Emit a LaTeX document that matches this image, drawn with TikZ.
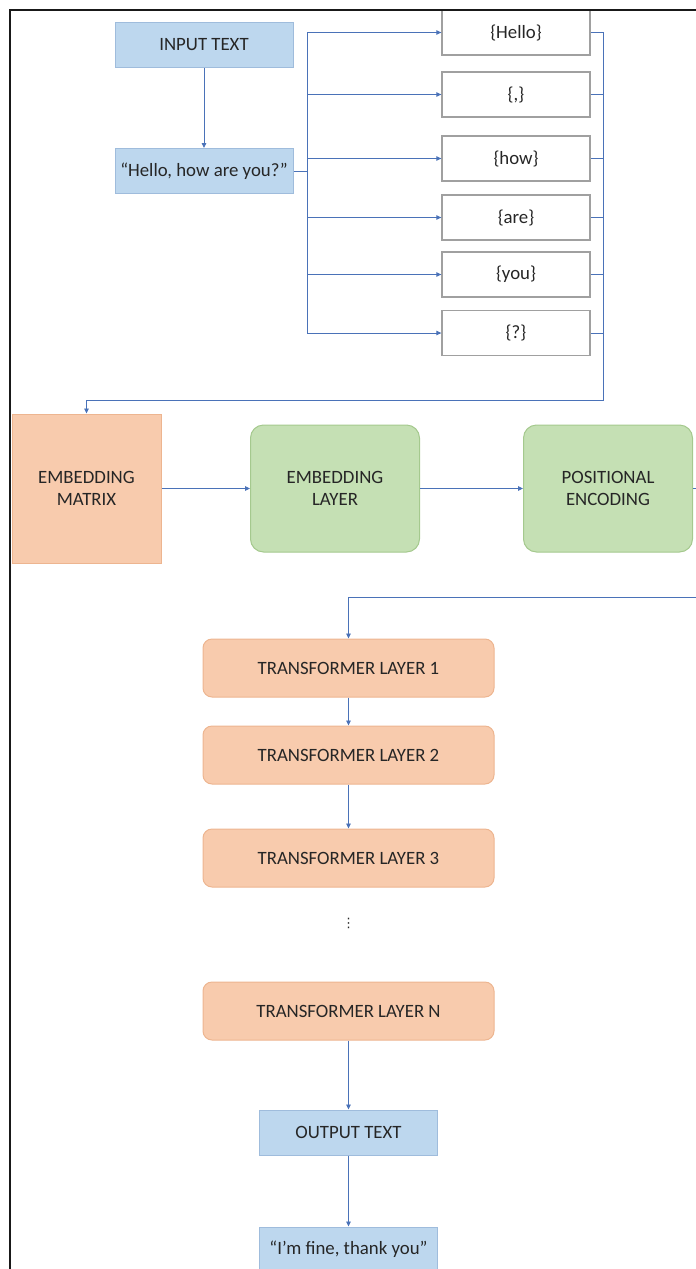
\documentclass[tikz,border=0pt]{standalone}
\usepackage{fontspec}
\setmainfont{Carlito}
\newfontfamily\symfont{DejaVu Sans}
\usetikzlibrary{positioning,arrows.meta}

\definecolor{lineblue}{HTML}{4A72B8}
\definecolor{textfill}{HTML}{BDD7EE}
\definecolor{textedge}{HTML}{9FBCDC}
\definecolor{salmon}{HTML}{F8CBAD}
\definecolor{salmonedge}{HTML}{EDB590}
\definecolor{leaf}{HTML}{C5E0B4}
\definecolor{leafedge}{HTML}{A5C98E}
\definecolor{tokenedge}{HTML}{A0A0A0}

\tikzset{
  textbox/.style={draw=textedge,fill=textfill,line width=1pt,minimum width=178pt,minimum height=45pt},
  tokenbox/.style={draw=tokenedge,fill=white,line width=1.3pt,minimum width=148pt,minimum height=45pt},
  matbox/.style={draw=salmonedge,fill=salmon,line width=1pt,minimum width=149pt,minimum height=149pt,align=center},
  layerbox/.style={draw=leafedge,fill=leaf,line width=1pt,rounded corners=13pt,minimum width=169pt,minimum height=127pt,align=center},
  tfbox/.style={draw=salmonedge,fill=salmon,line width=1pt,rounded corners=9pt,minimum width=291pt,minimum height=58pt},
  link/.style={draw=lineblue,line width=0.9pt},
}

\begin{document}
\begin{tikzpicture}[x=1pt,y=-1pt,on grid,>={Triangle[length=5pt,width=4.5pt]},
    font=\fontsize{18.8}{22}\selectfont,text=black!85]
   \clip (0,0) rectangle (696,1269);
   % input side
   \node[textbox] (input) at (204,45) {INPUT TEXT};
   \node[textbox] (sent) [below=126pt of input] {“Hello, how are you?”};
   % tokens
   \node[tokenbox] (hello) at (516,32.5) {\{Hello\}};
   \node[tokenbox] (comma) [below=62pt of hello] {\{,\}};
   \node[tokenbox] (how) [below=64pt of comma] {\{how\}};
   \node[tokenbox] (are) [below=59pt of how] {\{are\}};
   \node[tokenbox] (you) [below=57pt of are] {\{you\}};
   \node[tokenbox] (qmark) [below=58.5pt of you] {\{?\}};
   % embedding row
   \node[matbox] (mat) at (86.5,488.5) {EMBEDDING\\MATRIX};
   \node[layerbox] (emb) [right=248.5pt of mat] {EMBEDDING\\LAYER};
   \node[layerbox] (pe) [right=273pt of emb] {POSITIONAL\\ENCODING};
   % transformer stack
   \node[tfbox] (tl1) at (348.5,668) {TRANSFORMER LAYER 1};
   \node[tfbox] (tl2) [below=87pt of tl1] {TRANSFORMER LAYER 2};
   \node[tfbox] (tl3) [below=103pt of tl2] {TRANSFORMER LAYER 3};
   \node (dots) [below=65pt of tl3,font=\symfont\fontsize{13}{13}\selectfont] {⋮};
   \node[tfbox] (tln) [below=153pt of tl3] {TRANSFORMER LAYER N};
   \node[textbox] (out) [below=121.5pt of tln] {OUTPUT TEXT};
   \node[textbox] (fine) [below=117pt of out] {“I’m fine, thank you”};
   % connectors
   \coordinate (lbus) at (307,171);
   \coordinate (rbus) at (603,400);
   \coordinate (rturn) at (706,597);
   \draw[link,->] (input) -- (sent);
   \draw[link] (sent.east) -- (lbus);
   \draw[link,->] (lbus) |- (hello.west);
   \draw[link,->] (lbus) |- (comma.west);
   \draw[link,->] (lbus) |- (how.west);
   \draw[link,->] (lbus) |- (are.west);
   \draw[link,->] (lbus) |- (you.west);
   \draw[link,->] (lbus) |- (qmark.west);
   \draw[link,->] (hello.east) -| (rbus) -| (mat.north);
   \draw[link] (comma.east) -- (comma.east -| rbus);
   \draw[link] (how.east) -- (how.east -| rbus);
   \draw[link] (are.east) -- (are.east -| rbus);
   \draw[link] (you.east) -- (you.east -| rbus);
   \draw[link] (qmark.east) -- (qmark.east -| rbus);
   \draw[link,->] (mat) -- (emb);
   \draw[link,->] (emb) -- (pe);
   \draw[link,->] (pe.east) -| (rturn) -| (tl1.north);
   \draw[link,->] (tl1) -- (tl2);
   \draw[link,->] (tl2) -- (tl3);
   \draw[link,->] (tln) -- (out);
   \draw[link,->] (out) -- (fine);
   % frame
   \draw[line width=2pt,black!90] (10,1269) -- (10,10) -- (696,10);
\end{tikzpicture}
\end{document}
